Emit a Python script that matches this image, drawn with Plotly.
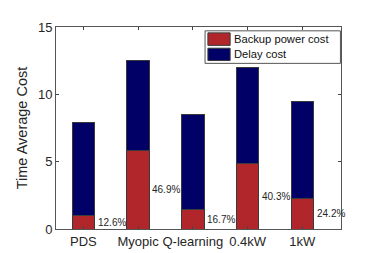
import plotly.graph_objects as go

categories = ["PDS", "Myopic", "Q-learning", "0.4kW", "1kW"]
total_cost = [7.9, 12.5, 8.5, 12.0, 9.5]
backup_cost = [0.99, 5.86, 1.42, 4.84, 2.30]
delay_cost = [t - b for t, b in zip(total_cost, backup_cost)]
pct_labels = ["12.6%", "46.9%", "16.7%", "40.3%", "24.2%"]
y_ticks = [0, 5, 10, 15]
series_names = ["Backup power cost", "Delay cost"]
series_colors = ["#B0262A", "#000066"]

xpos = list(range(1, len(categories) + 1))
bw = 0.41
font = "Liberation Sans, Arial, sans-serif"

fig = go.Figure()
for vals, name, col in zip([backup_cost, delay_cost], series_names, series_colors):
    fig.add_trace(go.Bar(x=xpos, y=vals, name=name, width=bw, showlegend=False,
                         marker=dict(color=col, line=dict(color="#3a3a3a", width=1))))

for xi, b, lab in zip(xpos, backup_cost, pct_labels):
    fig.add_annotation(x=xi + bw / 2, y=b / 2, text=lab, showarrow=False,
                       xanchor="left", yanchor="middle", xshift=1,
                       font=dict(family=font, size=10, color="#262626"))

# custom legend box (MATLAB style)
fig.add_shape(type="rect", xref="paper", yref="paper", x0=0.523, x1=0.998, y0=0.820, y1=0.981,
              line=dict(color="#555555", width=1), fillcolor="white", layer="above")
sw = [(0.971, 0.909, 0.940), (0.895, 0.834, 0.865)]
for (y1, y0, yc), name, col in zip(sw, series_names, series_colors):
    fig.add_shape(type="rect", xref="paper", yref="paper", x0=0.533, x1=0.611, y0=y0, y1=y1,
                  line=dict(color="#3a3a3a", width=1), fillcolor=col, layer="above")
    fig.add_annotation(xref="paper", yref="paper", x=0.618, y=yc, text=name, showarrow=False,
                       xanchor="left", yanchor="middle",
                       font=dict(family=font, size=11.2, color="#111111"))

fig.update_layout(
    width=374, height=253,
    margin=dict(l=48, r=41, t=19, b=28),
    barmode="stack",
    plot_bgcolor="white", paper_bgcolor="white",
    font=dict(family=font, color="#262626"),
    showlegend=False,
)
fig.update_xaxes(range=[0.5, 5.707], tickvals=xpos, ticktext=categories,
                 ticks="inside", ticklen=3, tickcolor="#444",
                 showline=True, linecolor="#555", linewidth=1, mirror="ticks",
                 showgrid=False, zeroline=False,
                 tickfont=dict(size=13, family=font, color="#262626"))
fig.update_yaxes(range=[0, 15], tickvals=y_ticks,
                 ticks="inside", ticklen=3, tickcolor="#444",
                 showline=True, linecolor="#555", linewidth=1, mirror="ticks",
                 showgrid=False, zeroline=False,
                 title=dict(text="Time Average Cost", font=dict(size=14.5, family=font, color="#262626"), standoff=6),
                 tickfont=dict(size=13, family=font, color="#262626"))

fig.write_html("out.html")
